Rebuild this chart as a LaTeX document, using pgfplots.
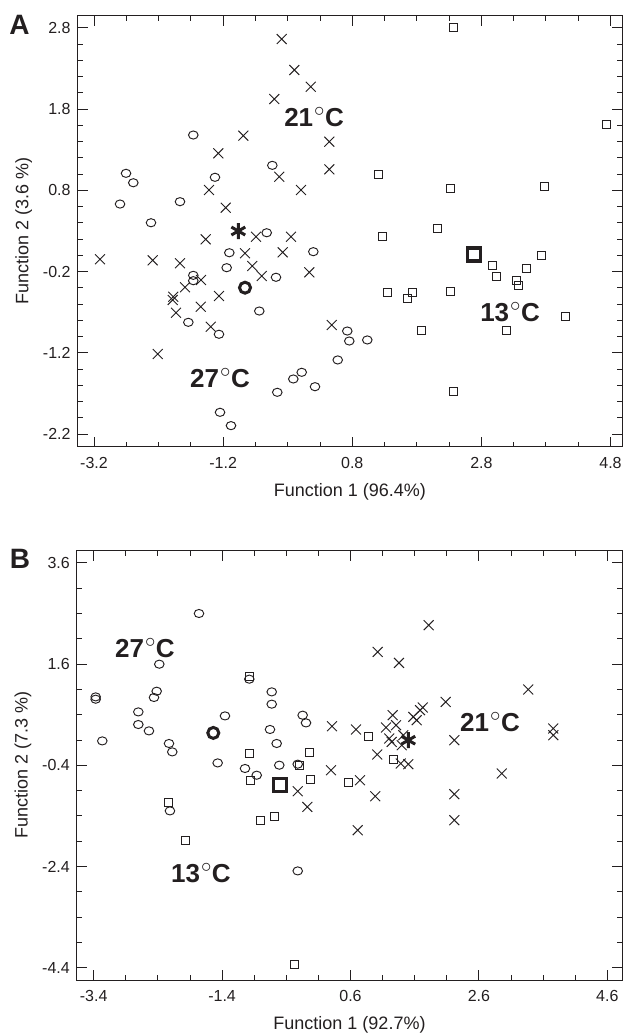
\documentclass[border=0pt]{standalone}
\usepackage{fontspec}
\setmainfont{Liberation Sans}
\usepackage{pgfplots}
\pgfplotsset{compat=1.18}
\definecolor{ink}{RGB}{35,31,32}

\pgfplotsset{
  dfa/.style={
    scale only axis, anchor=south west, clip=false,
    axis line style={ink, line width=1pt},
    every tick/.style={ink, line width=0.9pt},
    major tick length=10pt, minor tick length=5pt,
    tick align=inside,
    xtick pos=both, ytick pos=both,
    x tick label style={font=\fontsize{16}{16}\selectfont, text=ink, anchor=north, inner sep=0pt, yshift=-10pt},
    y tick label style={font=\fontsize{16}{16}\selectfont, text=ink, anchor=east, inner sep=0pt, xshift=-7pt},
    xlabel style={font=\fontsize{18}{18}\selectfont, text=ink, at={(axis description cs:0.5,0)}, anchor=center, yshift=-45pt},
    ylabel style={font=\fontsize{18}{18}\selectfont, text=ink, at={(axis description cs:-0.0992,0.5)}, anchor=center},
  },
  g27/.style={only marks, mark=o, mark size=4.8pt, mark options={ink, line width=0.95pt, yscale=0.85}},
  g21/.style={only marks, mark=x, mark size=7pt, mark options={ink, line width=0.95pt}},
  g13/.style={only marks, mark=square, mark size=4pt, mark options={ink, line width=0.95pt}},
  c27/.style={only marks, mark=o, mark size=5.5pt, mark options={ink, line width=3pt}},
  c21/.style={only marks, mark=asterisk, mark size=8pt, mark options={ink, line width=3pt}},
  c13/.style={only marks, mark=square, mark size=6.5pt, mark options={ink, line width=3.5pt}},
}
\newcommand{\temp}[1]{#1\hspace{1pt}{\fontsize{20}{20}\selectfont\raisebox{9.5pt}{$\circ$}}\hspace{0.5pt}C}

\begin{document}
\begin{tikzpicture}
\useasboundingbox (0pt,0pt) rectangle (623pt,1034pt);

% ---------------- panel A
\begin{axis}[dfa,
    at={(77.7pt,587.3pt)}, width=544.3pt, height=431pt,
    xmin=-3.4525, xmax=4.978, ymin=-2.354, ymax=2.948,
    xtick={-3.2,-1.2,0.8,2.8,4.8}, xticklabels={-3.2,-1.2,0.8,2.8,4.8},
    ytick={-2.2,-1.2,-0.2,0.8,1.8,2.8}, yticklabels={-2.2,-1.2,-0.2,0.8,1.8,2.8},
    minor x tick num=3, minor y tick num=4,
    xlabel={Function 1 (96.4\%)}, ylabel={Function 2 (3.6 \%)},
]
\addplot[g27] coordinates {
(-1.662,1.480) (-2.704,1.009) (-2.591,0.893) (-1.326,0.960) (-0.438,1.107)
(-2.797,0.631) (-1.868,0.660) (-2.317,0.401) (-0.525,0.278) (-1.104,0.032)
(0.197,0.045) (-1.145,-0.152) (-1.662,-0.246) (-1.662,-0.312) (-0.381,-0.270)
(-0.640,-0.685) (-1.739,-0.824) (-1.264,-0.971) (0.017,-1.439) (-0.113,-1.521)
(0.223,-1.616) (-0.361,-1.685) (-1.248,-1.931) (-1.078,-2.095) (0.723,-0.931)
(0.754,-1.054) (1.033,-1.041) (0.575,-1.287)
};
\addplot[g21] coordinates {
(-0.293,2.661) (-0.097,2.280) (0.157,2.074) (-0.407,1.923) (-0.887,1.472)
(-1.275,1.255) (-0.330,0.967) (-1.419,0.804) (0.006,0.804) (-1.160,0.586)
(0.445,1.398) (0.445,1.058) (-1.470,0.197) (-0.691,0.229) (-0.149,0.229)
(-0.861,0.025) (-0.277,0.037) (-3.107,-0.049) (-2.291,-0.061) (-1.868,-0.098)
(-0.748,-0.131) (0.135,-0.209) (-0.602,-0.254) (-1.543,-0.303) (-1.790,-0.393)
(-1.972,-0.509) (-1.981,-0.549) (-1.264,-0.500) (-1.547,-0.632) (-1.930,-0.706)
(-1.392,-0.878) (-2.213,-1.214) (0.482,-0.857)
};
\addplot[g13] coordinates {
(2.365,2.800) (4.741,1.607) (1.210,0.992) (2.325,0.828) (3.775,0.844)
(2.118,0.333) (1.272,0.229) (3.724,0.004) (2.969,-0.119) (3.502,-0.159)
(3.027,-0.254) (3.337,-0.312) (3.378,-0.365) (1.349,-0.460) (1.726,-0.460)
(1.659,-0.525) (2.325,-0.447) (1.865,-0.927) (3.193,-0.927) (4.100,-0.746)
(2.365,-1.677)
};
\addplot[c27] coordinates {(-0.861,-0.398)};
\addplot[c21] coordinates {(-0.965,0.299)};
\addplot[c13] coordinates {(2.686,0.013)};
\node[font=\bfseries\fontsize{26}{26}\selectfont, text=ink] at (axis cs:0.208,1.702) {\temp{21}};
\node[font=\bfseries\fontsize{26}{26}\selectfont, text=ink] at (axis cs:-1.248,-1.509) {\temp{27}};
\node[font=\bfseries\fontsize{26}{26}\selectfont, text=ink] at (axis cs:3.244,-0.697) {\temp{13}};
\end{axis}

% ---------------- panel B
\begin{axis}[dfa,
    at={(77pt,54pt)}, width=545pt, height=429.1pt,
    xmin=-3.660, xmax=4.829, ymin=-4.643, ymax=3.837,
    xtick={-3.4,-1.4,0.6,2.6,4.6}, xticklabels={-3.4,-1.4,0.6,2.6,4.6},
    ytick={-4.4,-2.4,-0.4,1.6,3.6}, yticklabels={-4.4,-2.4,-0.4,1.6,3.6},
    minor x tick num=3, minor y tick num=3,
    xlabel={Function 1 (92.7\%)}, ylabel={Function 2 (7.3 \%)},
]
\addplot[g27] coordinates {
(-1.760,2.600) (-2.378,1.598) (-3.369,0.952) (-3.369,0.906) (-2.419,1.064)
(-2.461,0.940) (-0.976,1.302) (-0.627,1.051) (-0.627,0.808) (-2.705,0.655)
(-1.355,0.576) (-2.705,0.406) (-2.539,0.280) (-0.654,0.308) (-0.145,0.590)
(-0.093,0.438) (-3.266,0.082) (-2.227,0.031) (-2.176,-0.135) (-1.469,-0.353)
(-1.043,-0.463) (-0.861,-0.596) (-0.550,0.031) (-0.509,-0.398) (-0.222,-0.378)
(-2.212,-1.301) (-0.222,-2.487)
};
\addplot[g21] coordinates {
(1.818,2.369) (1.024,1.841) (1.355,1.624) (3.369,1.098) (2.083,0.853)
(1.725,0.742) (1.683,0.689) (1.578,0.557) (1.631,0.491) (1.257,0.590)
(1.309,0.393) (1.153,0.347) (0.312,0.373) (0.686,0.308) (3.759,0.327)
(3.759,0.195) (1.204,0.130) (1.242,0.062) (1.422,0.195) (1.398,-0.003)
(2.217,0.096) (1.017,-0.187) (1.382,-0.364) (1.500,-0.378) (0.296,-0.497)
(0.748,-0.694) (0.986,-1.011) (2.217,-0.971) (2.955,-0.562) (-0.222,-0.912)
(-0.073,-1.222) (0.712,-1.683) (2.217,-1.485)
};
\addplot[g13] coordinates {
(-0.976,1.347) (-0.976,-0.167) (-0.042,-0.147) (-0.198,-0.412) (-0.955,-0.694)
(-0.020,-0.681) (-2.238,-1.135) (-0.810,-1.485) (-0.587,-1.420) (-1.967,-1.880)
(-0.280,-4.337) (0.877,0.161) (1.267,-0.279) (0.566,-0.748)
};
\addplot[c27] coordinates {(-1.537,0.240)};
\addplot[c21] coordinates {(1.500,0.096)};
\addplot[c13] coordinates {(-0.498,-0.793)};
\node[font=\bfseries\fontsize{26}{26}\selectfont, text=ink] at (axis cs:-2.601,1.914) {\temp{27}};
\node[font=\bfseries\fontsize{26}{26}\selectfont, text=ink] at (axis cs:2.773,0.452) {\temp{21}};
\node[font=\bfseries\fontsize{26}{26}\selectfont, text=ink] at (axis cs:-1.729,-2.532) {\temp{13}};
\end{axis}

\node[font=\bfseries\fontsize{28}{28}\selectfont, text=ink] at (19.5pt,1009pt) {A};
\node[font=\bfseries\fontsize{28}{28}\selectfont, text=ink] at (20pt,475pt) {B};
\end{tikzpicture}
\end{document}
